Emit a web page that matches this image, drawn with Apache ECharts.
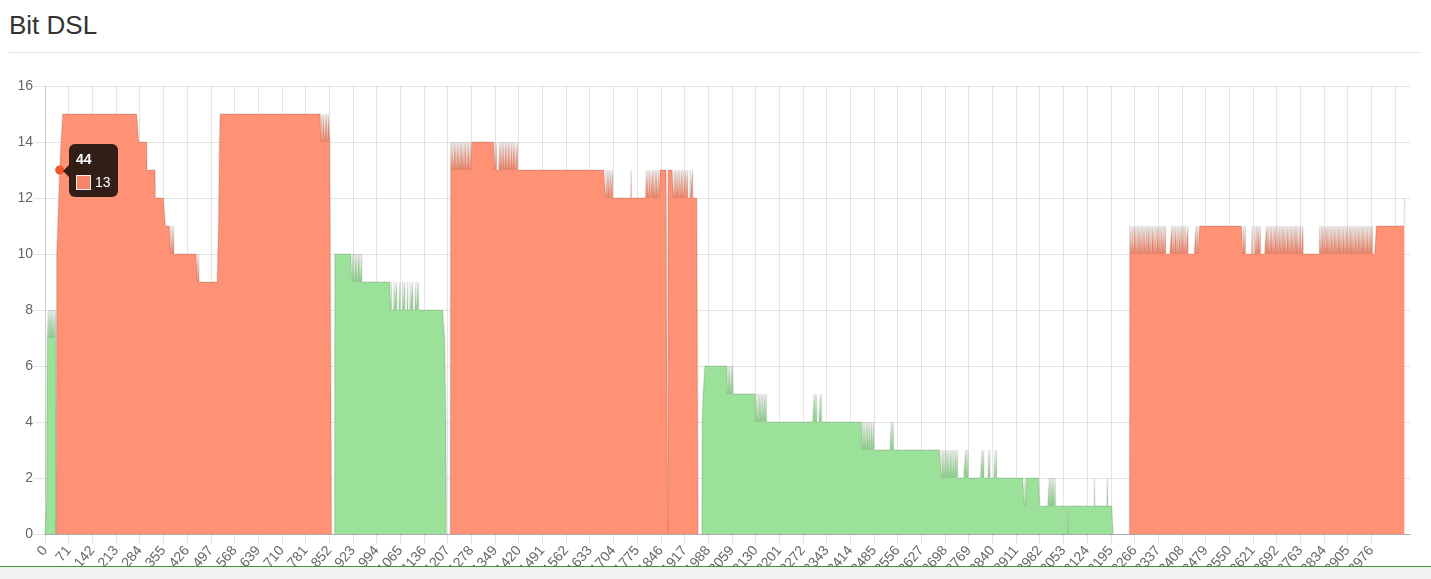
<!DOCTYPE html>
<html>
<head>
<meta charset="utf-8">
<title>Bit DSL</title>
<script src="https://cdn.jsdelivr.net/npm/echarts@6/dist/echarts.min.js"></script>
<style>
    html, body { margin: 0; padding: 0; background: #fff; }
    body { width: 1431px; height: 579px; position: relative; overflow: hidden;
           font-family: 'Liberation Sans', Arial, sans-serif; }
    h3 { position: absolute; left: 9px; top: 11px; margin: 0; font-size: 26px; line-height: 28.6px;
         font-weight: normal; color: #333; }
    .rule { position: absolute; left: 9px; top: 52px; width: 1412px; height: 0; border-top: 1px solid #e5e5e5; }
    #chart { position: absolute; left: 0; top: 0; width: 1431px; height: 566px; }
    .footer { position: absolute; left: 0; top: 566px; width: 1431px; height: 13px;
              background: #f2f2f2; border-top: 1px solid #3a963a; z-index: 10; }
</style>
</head>
<body>
<h3>Bit DSL</h3>
<div class="rule"></div>
<div id="chart"></div>
<div class="footer"></div>
<script>
(function (window, echarts) {
    'use strict';

    // tones 0 .. toneCount-1 on the x axis
    var toneCount = 4093;

    // band layout: first tone of each band and its direction
    var bandNames = ['US0', 'DS1', 'US1', 'DS2', 'US2', 'DS3'];
    var bandStart = [0, 34, 868, 1215, 1969, 3251];

    // bits per tone, as [bits, number of tones] runs
    var us0Runs = [[0,4],[1,1],[3,1],[5,1],[7,3],[8,1],[7,2],[8,1],[7,3],[8,1],[7,2],[8,1],[7,3],[8,1],
        [7,2],[8,1],[7,3],[8,1],[7,1],[0,1]];

    var ds1Runs = [[0,1],[10,3],[11,3],[12,3],[13,4],[14,5],[15,228],[14,25],[13,25],[12,30],
        [11,15],[10,1],[11,3],[10,1],[11,2],[10,1],[11,3],[10,70],[9,1],[10,2],[9,1],[10,1],[9,58],
        [11,1],[12,1],[13,1],[14,2],[15,303],
        [14,1],[15,4],[14,1],[15,5],[14,1],[15,3],[14,1],[15,4],[14,1],[15,5],
        [14,5],[0,1]];

    var us1Runs = [[0,1],[10,50],
        [10,1],[9,3],[10,1],[9,2],[10,1],[9,4],[10,1],[9,3],[10,1],[9,5],[10,1],[9,2],[10,1],[9,4],[10,1],[9,5],
        [9,79],
        [9,1],[8,3],[9,1],[8,8],[9,1],[8,6],[9,1],[8,9],[9,1],[8,7],[9,1],[8,5],[9,1],[8,8],[9,1],[8,7],
        [9,1],[8,6],[9,1],[8,9],[9,1],[8,6],[9,1],[8,9],
        [8,69],[7,4],[4,1],[0,1]];

    var ds2Runs = [[0,1],
        [14,1],[13,3],[14,1],[13,2],[14,1],[13,4],[14,1],[13,3],[14,2],[13,3],[14,1],[13,2],[14,1],[13,4],
        [14,1],[13,3],[14,1],[13,2],[14,1],[13,4],[14,1],[13,3],[14,2],[13,3],[14,1],[13,4],[14,1],[13,3],
        [14,1],[13,3],
        [14,65],
        [14,2],[13,2],[14,1],[13,4],[14,1],[13,8],[14,1],[13,3],[14,1],[13,4],[14,1],[13,3],[14,1],[13,5],
        [14,1],[13,3],[14,1],[13,4],[14,1],[13,3],[14,1],[13,5],[14,1],[13,4],[14,1],[13,3],[14,1],[13,6],
        [14,1],[13,7],
        [13,255],
        [13,2],[12,1],[13,1],[12,3],[13,1],[12,4],[13,1],[12,3],[13,1],[12,5],[13,1],[12,7],
        [12,48],[13,1],[12,45],
        [13,1],[12,4],[13,1],[12,5],[13,1],[12,6],[13,1],[12,3],[13,1],[12,4],[13,1],[12,3],[13,2],[12,3],
        [13,1],[12,4],
        [13,23],[0,1],[13,15],
        [13,1],[12,2],[13,1],[12,3],[13,1],[12,2],[13,1],[12,4],[13,1],[12,3],[13,1],[12,5],[13,1],[12,4],
        [13,1],[12,6],[13,1],[12,5],[13,1],[12,7],[13,1],[12,6],[13,1],[12,11],
        [12,5],[0,1]];

    var us2Runs = [[0,1],[4,3],[5,5],[6,65],
        [6,2],[5,1],[6,1],[5,2],[6,1],[5,3],[6,1],[5,4],[6,1],[5,3],[6,1],[5,10],
        [5,55],
        [5,2],[4,1],[5,1],[4,2],[5,1],[4,3],[5,1],[4,3],[5,1],[4,4],[5,1],[4,3],[5,1],[4,5],[5,1],[4,4],
        [5,1],[4,10],
        [4,134],
        [5,1],[4,2],[5,1],[4,2],[5,1],[4,10],[5,1],[4,2],[5,1],[4,10],
        [4,110],
        [4,2],[3,1],[4,1],[3,2],[4,1],[3,3],[4,1],[3,3],[4,1],[3,4],[4,1],[3,4],[4,1],[3,5],[4,1],[3,5],
        [4,1],[3,8],
        [3,44],
        [4,1],[3,2],[4,1],[3,2],[4,1],[3,9],
        [3,133],
        [3,2],[2,1],[3,1],[2,2],[3,1],[2,2],[3,1],[2,3],[3,1],[2,2],[3,1],[2,3],[3,1],[2,3],[3,1],[2,4],
        [3,1],[2,3],[3,1],[2,4],[3,1],[2,5],[3,1],[2,4],[3,1],[2,10],
        [2,14],
        [3,1],[2,2],[3,1],[2,3],[3,1],[2,13],
        [2,29],
        [3,1],[2,3],[3,1],[2,14],[3,1],[2,2],[3,1],[2,15],[3,1],[2,3],[3,1],[2,18],
        [2,65],[1,2],[2,1],[1,3],[2,40],[1,29],
        [2,1],[1,2],[2,1],[1,2],[2,1],[1,3],[2,1],[1,2],[2,1],[1,3],[2,1],[1,13],
        [1,24],[0,1],[1,79],[2,1],[1,38],[2,1],[1,16],[0,1]];

    var ds3Runs = [[0,1],
        [11,1],[10,2],[11,1],[10,3],[11,1],[10,2],[11,1],[10,4],[11,1],[10,2],[11,1],[10,3],[11,1],[10,3],
        [11,1],[10,2],[11,1],[10,4],[11,1],[10,3],[11,1],[10,2],[11,1],[10,3],[11,1],[10,4],[11,1],[10,2],
        [11,1],[10,3],
        [11,1],[10,2],[11,1],[10,3],[11,1],[10,4],[11,1],[10,2],[11,1],[10,3],[11,1],[10,2],[11,1],[10,4],
        [11,1],[10,3],[11,1],[10,2],[11,1],[10,3],[11,1],[10,4],[11,1],[10,2],[11,1],[10,3],[11,1],[10,2],
        [10,16],
        [11,1],[10,3],[11,1],[10,2],[11,1],[10,4],[11,1],[10,3],[11,1],[10,2],[11,1],[10,5],[11,1],[10,3],
        [11,1],[10,4],[11,1],[10,2],[11,1],[10,3],[11,1],[10,6],[11,1],[10,4],
        [10,20],
        [11,1],[10,3],[11,1],[10,5],
        [11,130],
        [10,3],[11,1],[10,3],[11,1],[10,8],
        [10,12],[11,1],[10,7],
        [11,1],[10,3],[11,1],[10,2],[11,1],[10,4],[11,1],[10,3],[11,1],[10,8],
        [10,10],
        [11,1],[10,3],[11,1],[10,2],[11,1],[10,4],[11,1],[10,3],[11,1],[10,3],[11,1],[10,2],[11,1],[10,4],
        [11,1],[10,3],[11,1],[10,2],[11,1],[10,3],[11,1],[10,4],[11,1],[10,3],[11,1],[10,2],[11,1],[10,3],
        [11,1],[10,3],[11,1],[10,4],[11,1],[10,2],[11,1],[10,3],[11,1],[10,3],[11,1],[10,2],[11,1],[10,4],
        [11,1],[10,3],[11,1],[10,3],[11,1],[10,2],[11,1],[10,3],[11,1],[10,4],[11,1],[10,5],[11,1],[10,10],
        [10,40],
        [11,1],[10,3],[11,1],[10,3],[11,1],[10,2],[11,1],[10,4],[11,1],[10,3],[11,1],[10,3],[11,1],[10,2],
        [11,1],[10,3],[11,1],[10,4],[11,1],[10,3],[11,1],[10,3],[11,1],[10,2],[11,1],[10,4],[11,1],[10,3],
        [11,1],[10,3],[11,1],[10,2],[11,1],[10,3],[11,1],[10,4],[11,1],[10,3],[11,1],[10,3],[11,1],[10,2],
        [11,1],[10,4],[11,1],[10,3],[11,1],[10,3],[11,1],[10,2],[11,1],[10,3],[11,1],[10,4],[11,1],[10,3],
        [11,1],[10,3],[11,1],[10,2],[11,1],[10,4],[11,1],[10,3],[11,1],[10,3],[11,1],[10,2],[11,1],[10,3],
        [11,1],[10,4],[11,1],[10,3],[11,1],[10,3],[11,1],[10,4],[11,1],[10,11],
        [11,85]];

    // last two tones, drawn as line only (no fill)
    var tailStart = 4075;
    var tailRuns = [[11,1],[12,1]];

    var bandRuns = [us0Runs, ds1Runs, us1Runs, ds2Runs, us2Runs, ds3Runs];

    var colors = {
        US: {fill: '#8ecd8c', dot: '#5cb85c'},
        DS: {fill: '#f4846a', dot: '#f2552f'}
    };

    var fontFamily = "'Liberation Sans', Arial, sans-serif";

    var tones = [];
    for (var i = 0; i < toneCount; i++) { tones.push(String(i)); }

    function expand(start, runs) {
        var data = [];
        for (var i = 0; i < toneCount; i++) { data.push('-'); }
        var t = start;
        runs.forEach(function (r) {
            for (var k = 0; k < r[1] && t < toneCount; k++) { data[t++] = r[0]; }
        });
        return data;
    }

    var series = bandNames.map(function (name, b) {
        var c = colors[name.substr(0, 2)];
        return {
            name: name,
            type: 'line',
            data: expand(bandStart[b], bandRuns[b]),
            showSymbol: false,
            symbol: 'circle',
            symbolSize: 9,
            itemStyle: {color: c.dot},
            lineStyle: {color: 'rgba(0,0,0,0.1)', width: 1.6},
            areaStyle: {color: c.fill, opacity: 1},
            fillColor: c.fill,
            emphasis: {scale: false}
        };
    });
    series.push({
        name: 'tail',
        type: 'line',
        data: expand(tailStart, tailRuns),
        showSymbol: false,
        lineStyle: {color: 'rgba(0,0,0,0.1)', width: 1.6},
        itemStyle: {color: 'rgba(0,0,0,0.1)'},
        tooltip: {show: false}
    });

    var chart = echarts.init(document.getElementById('chart'));

    chart.setOption({
        animation: false,
        grid: {left: 45, right: 21, top: 86, bottom: 32, containLabel: false, outerBoundsMode: 'none'},
        tooltip: {
            trigger: 'axis',
            triggerOn: 'none',
            alwaysShowContent: true,
            transitionDuration: 0,
            axisPointer: {type: 'none'},
            backgroundColor: 'rgba(0,0,0,0.8)',
            borderWidth: 0,
            borderRadius: 6,
            padding: 7,
            shadowBlur: 0,
            shadowColor: 'transparent',
            extraCssText: 'box-shadow:none;',
            textStyle: {color: '#fff', fontSize: 14, fontFamily: fontFamily},
            position: function (pt, params, dom, rect, size) {
                return [pt[0] + 9.5, pt[1] - size.contentSize[1] / 2];
            },
            formatter: function (params) {
                var p = params.filter(function (q) {
                    return q.seriesName !== 'tail' && q.value !== '-' && q.value != null;
                })[0];
                if (!p) { return ''; }
                var fill = series[p.seriesIndex].fillColor;
                return '<div style="position:absolute;left:-6px;top:50%;margin-top:-6px;width:0;height:0;' +
                    'border-top:6px solid transparent;border-bottom:6px solid transparent;' +
                    'border-right:6px solid rgba(0,0,0,0.8)"></div>' +
                    '<div style="font-weight:bold;line-height:16px;margin-bottom:7px">' + p.axisValue + '</div>' +
                    '<div style="line-height:16px;white-space:nowrap">' +
                    '<span style="display:inline-block;box-sizing:border-box;width:15px;height:15px;' +
                    'border:1px solid #eee;background:' + fill + ';vertical-align:-3px;margin-right:4px"></span>' +
                    p.value + '</div>';
            }
        },
        xAxis: {
            type: 'category',
            data: tones,
            boundaryGap: false,
            axisLine: {lineStyle: {color: 'rgba(0,0,0,0.25)', width: 1}},
            axisTick: {show: true, interval: 70, length: 10, lineStyle: {color: 'rgba(0,0,0,0.1)'}},
            splitLine: {show: true, interval: 70, lineStyle: {color: 'rgba(0,0,0,0.1)'}},
            axisLabel: {
                interval: 70,
                rotate: 50,
                margin: 14,
                verticalAlign: 'middle',
                showMaxLabel: false,
                color: '#666',
                fontSize: 14,
                fontFamily: fontFamily
            }
        },
        yAxis: {
            type: 'value',
            min: 0,
            max: 16,
            interval: 2,
            axisLine: {show: true, lineStyle: {color: 'rgba(0,0,0,0.1)'}},
            axisTick: {show: true, length: 12, lineStyle: {color: 'rgba(0,0,0,0.1)'}},
            splitLine: {lineStyle: {color: 'rgba(0,0,0,0.1)'}},
            axisLabel: {margin: 12, color: '#666', fontSize: 14, fontFamily: fontFamily}
        },
        series: series
    });

    chart.dispatchAction({type: 'showTip', seriesIndex: 1, dataIndex: 44});

})(window, window.echarts);
</script>
</body>
</html>
